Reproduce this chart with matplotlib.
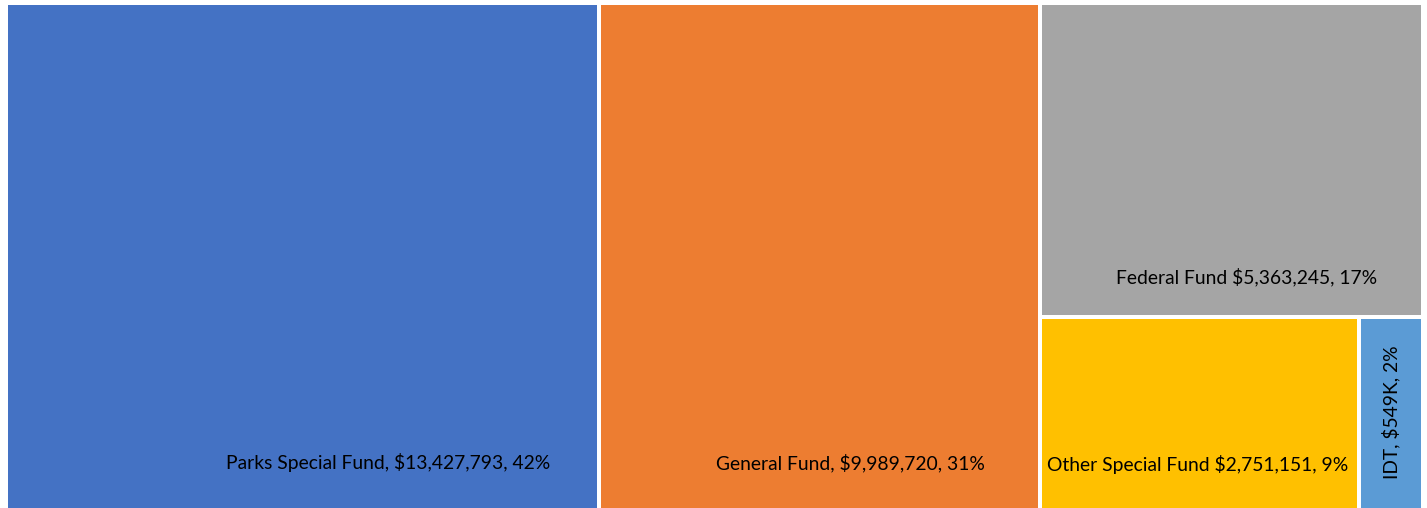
import matplotlib
matplotlib.use("Agg")
import matplotlib.pyplot as plt
from matplotlib.patches import Rectangle

names = ["Parks Special Fund", "General Fund", "Federal Fund", "Other Special Fund", "IDT"]
values = [13427793, 9989720, 5363245, 2751151, 549000]
labels = ["Parks Special Fund, $13,427,793, 42%",
          "General Fund, $9,989,720, 31%",
          "Federal Fund $5,363,245, 17%",
          "Other Special Fund $2,751,151, 9%",
          "IDT, $549K, 2%"]
colors = ["#4472C4", "#ED7D31", "#A5A5A5", "#FFC000", "#5B9BD5"]

W, H = 1427, 508
fig = plt.figure(figsize=(W / 100, H / 100), dpi=100)
ax = fig.add_axes([6 / W, -3 / H, (1423 - 6) / W, 508 / H])
ax.set_xlim(0, 1)
ax.set_ylim(0, 1)
ax.axis("off")

total = sum(values)
rects = []
x = 0.0
for v in values[:2]:
    w = v / total
    rects.append((x, 0.0, w, 1.0))
    x += w
rest = sum(values[2:])
wcol = 1.0 - x
hfed = values[2] / rest
rects.append((x, 1.0 - hfed, wcol, hfed))
bottom = sum(values[3:])
xb = x
for v in values[3:]:
    w = wcol * v / bottom
    rects.append((xb, 0.0, w, 1.0 - hfed))
    xb += w

lw = 4 * 72 / 100
for (rx, ry, rw, rh), c in zip(rects, colors):
    ax.add_patch(Rectangle((rx, ry), rw, rh, facecolor=c, edgecolor="white", linewidth=lw, clip_on=False))

fx = [0.644, 0.569, 0.54, 0.494, 0.5]
ybot = [48 / 508, 48 / 508, 40 / 508, 46 / 508, None]
font = ["Lato", "DejaVu Sans"]
fs = 13.9
for i, ((rx, ry, rw, rh), lab) in enumerate(zip(rects, labels)):
    if i == 4:
        ax.text(rx + rw * 0.5, ry + rh * 0.5 + 2 / 508, lab, rotation=90, ha="center", va="center",
                fontsize=fs, family=font, color="black")
    else:
        ax.text(rx + rw * fx[i], ry + ybot[i], lab, ha="center", va="center",
                fontsize=fs, family=font, color="black")

fig.savefig("out.png", dpi=100, facecolor="white")
